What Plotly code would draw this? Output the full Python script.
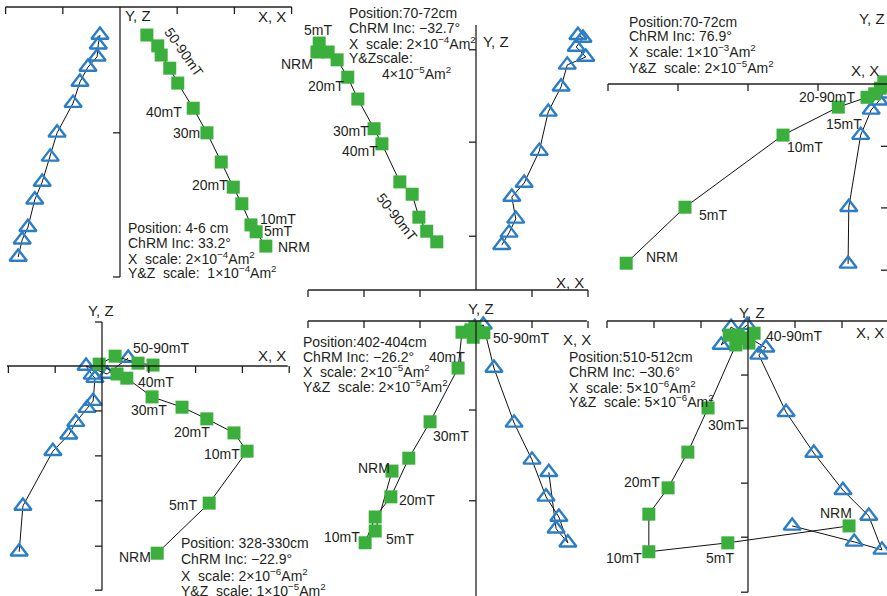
import plotly.graph_objects as go

W, H = 887, 596
GREEN = "#3aaf3c"
BLUE = "#2b7ec6"
INK = "#231f20"
FONT = "Liberation Sans, Arial, sans-serif"

# ---------------- data (units of each panel's horizontal tick interval) ----------------
# Panel 1: 4-6 cm
p1_sq_x = [2.55, 2.38, 2.29, 2.13, 1.98, 1.77, 1.52, 1.28, 1.01, 0.87, 0.72, 0.66, 0.47]
p1_sq_y = [-4.18, -3.93, -3.81, -3.44, -3.15, -2.71, -2.20, -1.77, -1.33, -1.07, -0.84, -0.68, -0.49]
p1_tri_x = [-1.78, -1.71, -1.61, -1.49, -1.36, -1.22, -1.10, -0.82, -0.70, -0.56, -0.40, -0.38, -0.35]
p1_tri_y = [-4.37, -4.07, -3.85, -3.37, -3.06, -2.62, -2.20, -1.68, -1.31, -1.05, -0.87, -0.66, -0.49]

# Panel 2: 70-72 cm (Inc -32.7)
p2_sq_x = [-2.84, -2.80, -2.64, -2.48, -2.29, -2.11, -1.82, -1.68, -1.36, -1.14, -1.02, -0.88, -0.70]
p2_sq_y = [4.25, 4.41, 4.25, 4.11, 3.80, 3.41, 2.88, 2.61, 1.93, 1.71, 1.30, 1.05, 0.86]
p2_tri_x = [1.82, 1.91, 1.79, 1.96, 1.63, 1.52, 1.29, 1.13, 0.86, 0.64, 0.71, 0.59, 0.46]
p2_tri_y = [4.55, 4.50, 4.34, 4.16, 4.02, 3.63, 3.18, 2.48, 1.91, 1.66, 1.27, 1.02, 0.80]

# Panel 3: 70-72 cm (Inc 76.9)
p3_sq_x = [-3.74, -2.90, -1.50, -0.71, -0.30, -0.19, -0.11, -0.06, -0.03]
p3_sq_y = [-2.56, -1.76, -0.73, -0.33, -0.19, -0.14, -0.06, 0.03, -0.03]
p3_tri_x = [-0.57, -0.56, -0.39, -0.24, -0.13, -0.07, -0.03]
p3_tri_y = [-2.57, -1.76, -0.73, -0.37, -0.24, -0.14, -0.06]

# Panel 4: 328-330 cm
p4_sq_x = [1.18, 2.29, 3.10, 2.82, 2.24, 1.71, 1.07, 0.53, 0.32, -0.06, 0.28, 0.77, 1.09]
p4_sq_y = [-4.00, -2.93, -1.82, -1.43, -1.13, -0.88, -0.66, -0.26, -0.17, 0.04, 0.21, 0.06, 0.02]
p4_tri_x = [-1.77, -1.69, -1.05, -0.71, -0.56, -0.32, -0.19, -0.15, -0.21, -0.34, 0.11, 0.56]
p4_tri_y = [-3.97, -2.99, -1.82, -1.47, -1.20, -0.90, -0.75, -0.26, -0.19, 0.00, -0.17, 0.17]

# Panel 5: 402-404 cm
p5_sq_x = [-1.50, -1.80, -1.98, -1.80, -1.52, -1.20, -0.82, -0.32, -0.25, -0.09, -0.02, -0.05, 0.14]
p5_sq_y = [-2.68, -3.75, -3.96, -3.50, -3.14, -2.45, -1.80, -0.84, -0.20, -0.16, -0.11, -0.29, -0.21]
p5_tri_x = [1.30, 1.43, 1.64, 1.48, 1.25, 1.00, 0.68, 0.32, 0.13, -0.18, 0.04, -0.02]
p5_tri_y = [-2.70, -3.71, -3.96, -3.50, -3.14, -2.48, -1.82, -0.84, -0.07, -0.21, -0.16, -0.11]

# Panel 6: 510-512 cm
p6_sq_x = [2.15, -0.43, -2.11, -2.11, -1.70, -1.28, -0.85, -0.26, 0.02, -0.40, -0.21, 0.13, -0.11]
p6_sq_y = [-4.36, -4.72, -4.91, -4.11, -3.55, -2.79, -1.85, -0.51, -0.47, -0.30, -0.30, -0.26, -0.36]
p6_tri_x = [0.94, 2.26, 2.85, 2.57, 2.02, 1.40, 0.81, 0.23, 0.38, -0.36, -0.57, -0.02]
p6_tri_y = [-4.36, -4.70, -4.87, -4.15, -3.60, -2.81, -1.94, -0.72, -0.57, -0.13, -0.51, -0.09]

series = [
    (p1_sq_x, p1_sq_y, p1_tri_x, p1_tri_y),
    (p2_sq_x, p2_sq_y, p2_tri_x, p2_tri_y),
    (p3_sq_x, p3_sq_y, p3_tri_x, p3_tri_y),
    (p4_sq_x, p4_sq_y, p4_tri_x, p4_tri_y),
    (p5_sq_x, p5_sq_y, p5_tri_x, p5_tri_y),
    (p6_sq_x, p6_sq_y, p6_tri_x, p6_tri_y),
]

# ---------------- layout of panels (pixels) ----------------
frames = [
    dict(rect=(0, 0, 300, 296), origin=(120, 7), s=57.2, hx=(-2, 3), ht=[-2, -1, 1, 2, 3],
         vy=(0, -4.72), vt=[-2.2, -4.72]),
    dict(rect=(300, 0, 600, 300), origin=(476, 290), s=56, hx=(-3, 2), ht=[-3, -2, -1, 1, 2],
         vy=(0, 4.73), vt=[4.29, 2.64, 0.96]),
    dict(rect=(600, 0, 887, 296), origin=(888, 84), s=70, hx=(-4, 0), ht=[-4, -3, -2, -1],
         vy=(0.9, -2.66), vt=[-0.89, -1.77, -2.66]),
    dict(rect=(0, 300, 300, 596), origin=(102, 366), s=46.8, hx=(-2.03, 3.97), ht=[-2, -1, 1, 2, 3, 4],
         vy=(0.94, -4.79), vt=[0.94, -0.96, -1.92, -2.88, -3.85, -4.79]),
    dict(rect=(300, 300, 600, 596), origin=(476, 321), s=56, hx=(-3, 1.98), ht=[-3, -2, -1, 1, 2],
         vy=(0, -5.0), vt=[-1.59, -3.21]),
    dict(rect=(600, 300, 887, 596), origin=(748, 321), s=47, hx=(-3, 3), ht=[-3, -2, -1, 1, 2],
         vy=(0, -5.77), vt=[-1.15, -2.28, -3.45, -4.60, -5.77]),
]

fig = go.Figure()
layout_upd = {}
shapes = []
for i, fr in enumerate(frames, start=1):
    L, T, R, B = fr["rect"]
    ox, oy = fr["origin"]
    s = fr["s"]
    xn = "x" if i == 1 else f"x{i}"
    yn = "y" if i == 1 else f"y{i}"
    xa = "xaxis" if i == 1 else f"xaxis{i}"
    ya = "yaxis" if i == 1 else f"yaxis{i}"
    layout_upd[xa] = dict(domain=[L / W, R / W], range=[(L - ox) / s, (R - ox) / s],
                          visible=False, anchor=yn, fixedrange=True)
    layout_upd[ya] = dict(domain=[1 - B / H, 1 - T / H], range=[(oy - B) / s, (oy - T) / s],
                          visible=False, anchor=xn, fixedrange=True)
    ln = dict(color=INK, width=1.3)
    shapes.append(dict(type="line", xref=xn, yref=yn, x0=fr["hx"][0], x1=fr["hx"][1], y0=0, y1=0, line=ln))
    shapes.append(dict(type="line", xref=xn, yref=yn, x0=0, x1=0, y0=fr["vy"][0], y1=fr["vy"][1], line=ln))
    for t in fr["ht"]:
        shapes.append(dict(type="line", xref=xn, yref=yn, x0=t, x1=t, ysizemode="pixel", yanchor=0,
                           y0=0, y1=-7, line=ln))
    for t in fr["vt"]:
        shapes.append(dict(type="line", xref=xn, yref=yn, y0=t, y1=t, xsizemode="pixel", xanchor=0,
                           x0=0, x1=-7, line=ln))

    sx, sy, tx, ty = series[i - 1]
    fig.add_trace(go.Scatter(x=tx, y=ty, xaxis=xn, yaxis=yn, mode="lines+markers",
                             line=dict(color="#111", width=1),
                             marker=dict(symbol="triangle-up-open", size=15, color=BLUE,
                                         line=dict(width=2.4, color=BLUE)),
                             cliponaxis=False, showlegend=False, hoverinfo="skip"))
    fig.add_trace(go.Scatter(x=sx, y=sy, xaxis=xn, yaxis=yn, mode="lines+markers",
                             line=dict(color="#111", width=1),
                             marker=dict(symbol="square", size=13, color=GREEN, line=dict(width=0)),
                             cliponaxis=False, showlegend=False, hoverinfo="skip"))

fig.update_layout(**layout_upd)
fig.update_layout(shapes=shapes)

# ---------------- text ----------------
def txt(text, x, y, size=14, anchor="left", angle=0):
    fig.add_annotation(x=x / W, y=1 - y / H, xref="paper", yref="paper", text=text, showarrow=False,
                       xanchor=anchor, yanchor="middle", textangle=angle, borderpad=0,
                       font=dict(family=FONT, size=size, color=INK))

NB = "\u00a0"
def sci(m, e):
    return f"{m}×10<sup>−{e}</sup>Am<sup>2</sup>"

info = [
    (127, [228, 243, 258, 272], ["Position: 4-6 cm", "ChRM Inc: 33.2°",
                                 f"X{NB} scale: " + sci(2, 4), f"Y&amp;Z{NB} scale: {NB}" + sci(1, 4)]),
    (348, [13, 28, 43, 58], ["Position:70-72cm", "ChRM Inc: −32.7°",
                             f"X{NB} scale: " + sci(2, 4), "Y&amp;Zscale:"]),
    (628, [22, 36, 51, 67], ["Position:70-72cm", "ChRM Inc: 76.9°",
                             f"X{NB} scale: " + sci(1, 3), f"Y&amp;Z{NB} scale: " + sci(2, 5)]),
    (180, [543, 559, 575, 590], ["Position: 328-330cm", "ChRM Inc: −22.9°",
                                 f"X{NB} scale: " + sci(2, 6), f"Y&amp;Z{NB} scale: " + sci(1, 5)]),
    (302, [342, 357, 371, 386], ["Position:402-404cm", "ChRM Inc: −26.2°",
                                 f"X{NB} scale: " + sci(2, 5), f"Y&amp;Z{NB} scale: " + sci(2, 5)]),
    (568, [357, 372, 387, 401], ["Position:510-512cm", "ChRM Inc: −30.6°",
                                 f"X{NB} scale: " + sci(5, 6), f"Y&amp;Z{NB} scale: " + sci(5, 6)]),
]
for x0, ys, lines in info:
    for yy, t in zip(ys, lines):
        txt(t, x0, yy)
txt(sci(4, 5), 381, 73)

field_labels = [
    ("40mT", 145, 112), ("30m", 172, 133), ("20mT", 191, 185), ("10mT", 259, 219),
    ("5mT", 263, 231), ("NRM", 277, 247),
    ("5mT", 303, 30), ("NRM", 280, 64), ("20mT", 307, 86), ("30mT", 332, 131), ("40mT", 341, 151),
    ("20-90mT", 798, 97), ("15mT", 825, 124), ("10mT", 786, 147), ("5mT", 698, 215), ("NRM", 645, 257),
    ("50-90mT", 132, 348), ("40mT", 137, 382), ("30mT", 130, 410), ("20mT", 173, 432),
    ("10mT", 203, 454), ("5mT", 168, 505), ("NRM", 118, 557),
    ("40mT", 428, 357), ("50-90mT", 492, 338), ("30mT", 432, 436), ("NRM", 357, 468),
    ("20mT", 398, 500), ("10mT", 323, 537), ("5mT", 385, 539),
    ("40-90mT", 765, 336), ("30mT", 707, 425), ("20mT", 623, 482), ("10mT", 605, 558),
    ("5mT", 705, 558), ("NRM", 819, 513),
]
for t, x, y in field_labels:
    txt(t, x, y)
txt("50-90mT", 184, 52, anchor="center", angle=55)
txt("50-90mT", 397, 217, anchor="center", angle=52)

axis_labels = [
    ("Y, Z", 124, 16), ("X, X", 257, 17),
    ("Y, Z", 482, 42), ("X, X", 555, 282),
    ("Y, Z", 858, 18), ("X, X", 850, 70),
    ("Y, Z", 87, 310), ("X, X", 257, 355),
    ("Y, Z", 467, 308), ("X, X", 562, 339),
    ("Y, Z", 738, 312), ("X, X", 855, 332),
]
for t, x, y in axis_labels:
    txt(t, x, y, size=15)

fig.update_layout(width=W, height=H, margin=dict(l=0, r=0, t=0, b=0),
                  paper_bgcolor="white", plot_bgcolor="rgba(0,0,0,0)", showlegend=False)

fig.write_html("out.html", config={"displayModeBar": False})

# remove the browser's default page margin so the figure sits at the window's corner
with open("out.html", encoding="utf-8") as f:
    page = f.read()
page = page.replace("<head>", "<head><style>html,body{margin:0;padding:0;overflow:hidden;}</style>", 1)
with open("out.html", "w", encoding="utf-8") as f:
    f.write(page)
